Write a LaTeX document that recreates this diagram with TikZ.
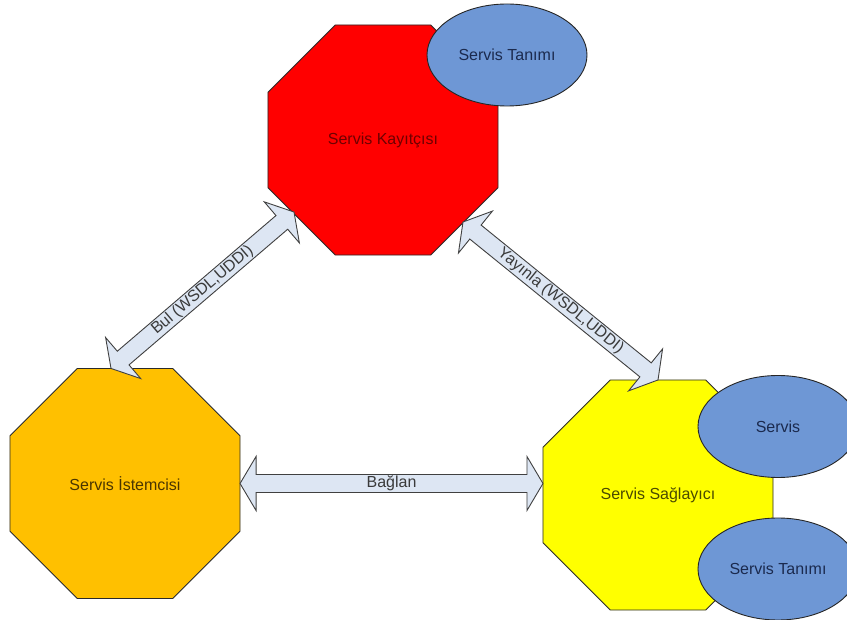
\documentclass[tikz,border=0pt]{standalone}
\usepackage{fontspec}
\setmainfont{Liberation Sans}
\usetikzlibrary{shapes.geometric,calc}

\definecolor{registryfill}{HTML}{FF0000}
\definecolor{clientfill}{HTML}{FFC000}
\definecolor{providerfill}{HTML}{FFFF00}
\definecolor{descfill}{HTML}{6E97D5}
\definecolor{arrowfill}{HTML}{DDE6F3}
\definecolor{arrowline}{HTML}{404040}
\definecolor{edgeline}{HTML}{2A2A2A}
\definecolor{registrytext}{HTML}{6E0000}
\definecolor{clienttext}{HTML}{4A3500}
\definecolor{providertext}{HTML}{4A4A00}
\definecolor{desctext}{HTML}{1B2A4E}
\definecolor{arrowtext}{HTML}{3A3A3A}

% Double-headed block arrow between two tip points; #3 names its helper points
\newcommand\blockarrow[3]{%
  \coordinate (#3-ba) at ($(#1)!16pt!(#2)$);
  \coordinate (#3-bb) at ($(#2)!16pt!(#1)$);
  \draw[arrowbody] (#1)
    -- ($(#3-ba)!27pt!90:(#2)$) -- ($(#3-ba)!9pt!90:(#2)$)
    -- ($(#3-bb)!9pt!-90:(#1)$) -- ($(#3-bb)!27pt!-90:(#1)$)
    -- (#2)
    -- ($(#3-bb)!27pt!90:(#1)$) -- ($(#3-bb)!9pt!90:(#1)$)
    -- ($(#3-ba)!9pt!-90:(#2)$) -- ($(#3-ba)!27pt!-90:(#2)$)
    -- cycle;
}

\begin{document}
\begin{tikzpicture}[x=1pt,y=-1pt,
  every node/.style={font=\fontsize{16}{19}\selectfont},
  octa/.style={regular polygon, regular polygon sides=8, minimum size=249pt,
    inner sep=0pt, outer sep=0pt, draw=edgeline, line width=0.9pt},
  desc/.style={ellipse, minimum width=160pt, minimum height=102pt,
    inner sep=0pt, outer sep=0pt, draw=black!85, line width=0.9pt,
    fill=descfill, text=desctext},
  arrowbody/.style={draw=arrowline, fill=arrowfill, line width=0.9pt,
    line join=miter},
  arrowlabel/.style={text=arrowtext, inner sep=0pt}
]
\clip (0,0) rectangle (847,620);
\fill[white] (0,0) rectangle (847,620);

% the three roles
\node[octa, fill=registryfill, text=registrytext] (registry) at (383,140) {Servis Kayıtçısı};
\node[octa, fill=clientfill, text=clienttext] (client) at (125,483.5) {Servis İstemcisi};
\node[octa, fill=providerfill, text=providertext] (provider) at (658,495) {Servis Sağlayıcı};

% attached descriptions
\node[desc] (regdesc) at (507,55) {Servis Tanımı};
\node[desc] (service) at (778,426.5) {Servis};
\node[desc] (provdesc) at (778,569) {Servis Tanımı};

% arrow tips on the role borders
\coordinate (bindL) at (client.east);
\coordinate (bindR) at (client.east -| provider.west);
\coordinate (findLow) at ($(client.north)+(-14,0)$);
\coordinate (findHigh) at ($(registry.center)+(-89,72)$);
\coordinate (pubHigh) at ($(registry.center)+(80,82)$);
\coordinate (pubLow) at (provider.north);

\blockarrow{findLow}{findHigh}{find}
\blockarrow{pubHigh}{pubLow}{pub}
\blockarrow{bindL}{bindR}{bind}

\path (findLow) -- node[arrowlabel, sloped] {Bul (WSDL,UDDI)} (findHigh);
\path (pubHigh) -- node[arrowlabel, sloped] {Yayınla (WSDL,UDDI)} (pubLow);
\path (bindL) -- node[arrowlabel] {Bağlan} (bindR);
\end{tikzpicture}
\end{document}
